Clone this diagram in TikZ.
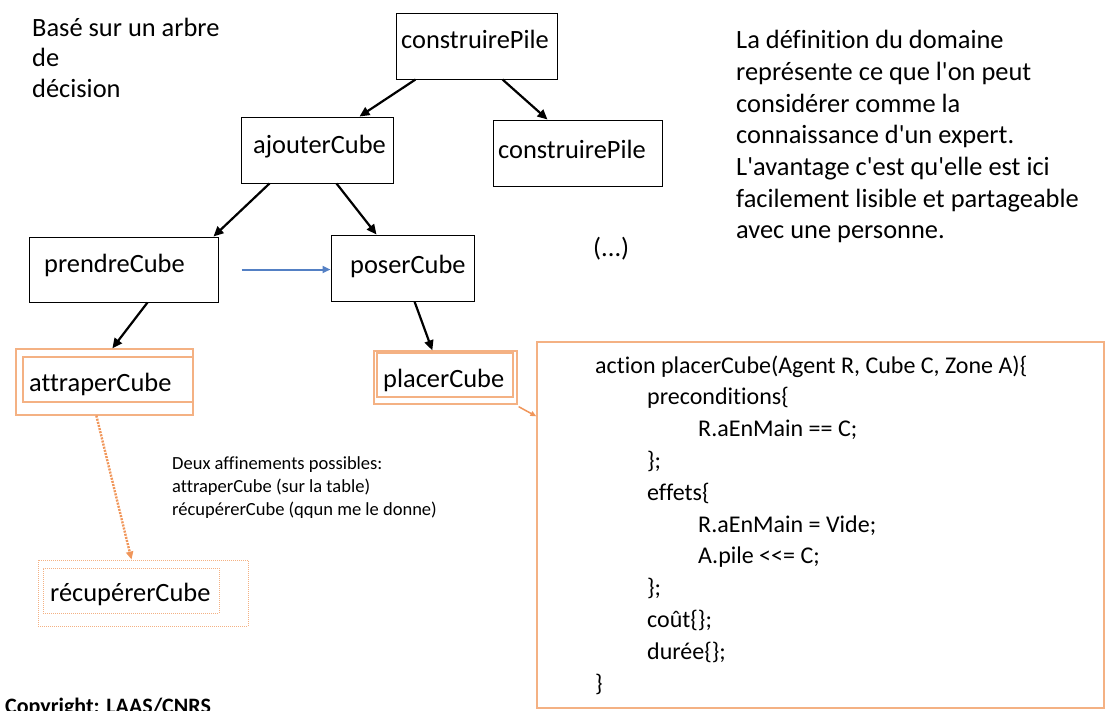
\documentclass[tikz,border=0pt]{standalone}
\usepackage{fontspec}
\setmainfont{Carlito}[Ligatures={TeXOff,NoCommon,NoContextual}]
\usetikzlibrary{arrows.meta,calc}
\definecolor{orL}{RGB}{244,177,131}
\definecolor{orD}{RGB}{240,150,90}
\definecolor{bluA}{RGB}{84,128,196}
\tikzset{
  box/.style={draw=black,line width=1pt,inner sep=0pt,fill=white},
  obox/.style={draw=orL,line width=1.3pt,inner sep=0pt},
  dbox/.style={draw=orL,line width=0.9pt,inner sep=0pt,dash pattern=on 1pt off 1pt},
  lbl/.style={anchor=base west,inner sep=0pt,font=\fontsize{26.4}{31.7}\selectfont},
  code/.style={anchor=base west,inner sep=0pt,font=\fontsize{24}{31.8}\selectfont},
  small/.style={anchor=base west,inner sep=0pt,font=\fontsize{18.5}{23}\selectfont},
  arr/.style={line width=2.2pt,-{Triangle[length=10pt,width=9pt]}},
}
\begin{document}
\begin{tikzpicture}[x=1pt,y=-1pt]
\useasboundingbox (0,0) rectangle (1106,710);
\clip (0,0) rectangle (1106,710);
% boxes
\node[box,minimum width=161pt,minimum height=66pt] (cpTop) at (476.5,46) {};
\node[box,minimum width=152pt,minimum height=66pt] (ajout) at (317,150) {};
\node[box,minimum width=169pt,minimum height=66pt] (cpRight) at (577.5,153) {};
\node[box,minimum width=189pt,minimum height=65pt] (prendre) at (123.5,269.5) {};
\node[box,minimum width=143pt,minimum height=66pt] (poser) at (402.5,268) {};
\node[obox,minimum width=177pt,minimum height=66pt] (attraper) at (104.5,382) {};
\node[obox,minimum width=170pt,minimum height=45pt] (attraperIn) at (108,379.5) {};
\node[obox,minimum width=143pt,minimum height=53pt] (placer) at (445.5,377.5) {};
\node[obox,minimum width=136pt,minimum height=44pt] (placerIn) at (445,375) {};
\node[dbox,minimum width=210pt,minimum height=66pt] (recup) at (143,593) {};
\node[dbox,minimum width=176pt,minimum height=45pt] (recupIn) at (131,590.5) {};
\node[obox,minimum width=567pt,minimum height=366pt] (big) at (820.5,525) {};
% labels
\node[lbl] (tTop) at (401,48) {construirePile};
\node[lbl] (tAjout) at (253,153) {ajouterCube};
\node[lbl] (tRight) at (498,158) {construirePile};
\node[lbl] (tPrendre) at (44,272) {prendreCube};
\node[lbl] (tPoser) at (350,273) {poserCube};
\node[lbl] (tAttraper) at (29,391) {attraperCube};
\node[lbl] (tPlacer) at (383,387) {placerCube};
\node[lbl] (tRecup) at (50,601) {récupérerCube};
\node[lbl] (tDots) at (593,256) {(...)};
% left text
\node[lbl] (b1) at (32,36) {Basé sur un arbre};
\node[lbl] (b2) at (32,66) {de};
\node[lbl] (b3) at (32,97) {décision};
% right text
\node[lbl] (r1) at (736,48.7) {La définition du domaine};
\node[lbl] (r2) at (736,80.4) {représente ce que l'on peut};
\node[lbl] (r3) at (736,112.1) {considérer comme la};
\node[lbl] (r4) at (736,143.8) {connaissance d'un expert.};
\node[lbl] (r5) at (736,175.5) {L'avantage c'est qu'elle est ici};
\node[lbl] (r6) at (736,207.2) {facilement lisible et partageable};
\node[lbl] (r7) at (736,238.9) {avec une personne.};
% small note
\node[small] (n1) at (172,469) {Deux affinements possibles:};
\node[small] (n2) at (172,492) {attraperCube (sur la table)};
\node[small] (n3) at (172,515) {récupérerCube (qqun me le donne)};
% code
\node[code] (c1) at (595,373) {action placerCube(Agent R, Cube C, Zone A)\{};
\node[code] (c2) at (647,404.8) {preconditions\{};
\node[code] (c3) at (698,436.6) {R.aEnMain == C;};
\node[code] (c4) at (647,468.4) {\};};
\node[code] (c5) at (647,500.2) {effets\{};
\node[code] (c6) at (698,532) {R.aEnMain = Vide;};
\node[code] (c7) at (698,563.8) {A.pile <<= C;};
\node[code] (c8) at (647,595.6) {\};};
\node[code] (c9) at (647,627.4) {coût\{\};};
\node[code] (c10) at (647,659.2) {durée\{\};};
\node[code] (c11) at (595,691) {\}};
% copyright
\node[anchor=base west,inner sep=0pt,font=\fontsize{22}{26}\selectfont\bfseries] (copy) at (5,713) {Copyright: LAAS/CNRS};
% arrows
\draw[arr] ([xshift=20pt]cpTop.south west) -- ([xshift=119pt]ajout.north west);
\draw[arr] ([xshift=107pt]cpTop.south west) -- ([xshift=55pt]cpRight.north west);
\draw[arr] ([xshift=29pt]ajout.south west) -- ([xshift=-5pt]prendre.north east);
\draw[arr] ([xshift=96pt]ajout.south west) -- ([xshift=46pt]poser.north west);
\draw[arr] ([xshift=119pt]prendre.south west) -- ([xshift=97pt]attraper.north west);
\draw[arr] ([xshift=84pt]poser.south west) -- ([xshift=59pt]placer.north west);
\coordinate (bS) at ([xshift=23pt]prendre.east);
\draw[line width=2pt,draw=bluA,-{Triangle[length=8pt,width=7pt]}] (bS) -- (bS -| poser.west);
\draw[draw=orD,line width=2.4pt,dash pattern=on 2pt off 1.2pt,-{Triangle[length=8pt,width=7pt]}] ([xshift=81pt]attraper.south west) -- ([xshift=94pt]recup.north west);
\draw[draw=orD,line width=1.5pt,-{Triangle[length=6pt,width=5pt]}] ([xshift=1pt,yshift=-2pt]placer.south east) -- ([yshift=-75pt]big.north west);
\end{tikzpicture}
\end{document}
